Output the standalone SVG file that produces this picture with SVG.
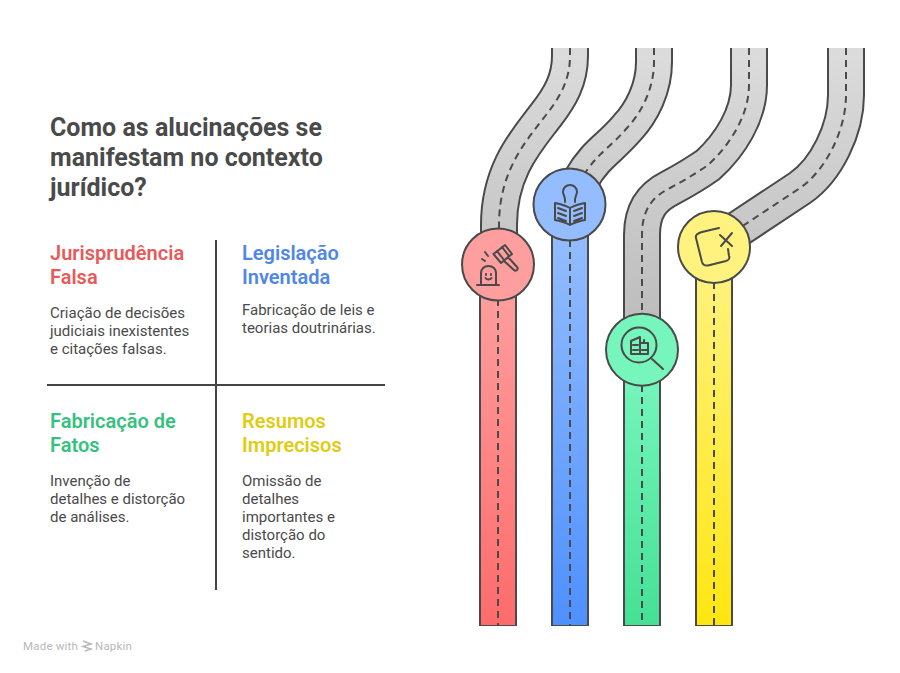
<svg xmlns="http://www.w3.org/2000/svg" width="900" height="673" viewBox="0 0 900 673">
<style>
.edge{fill:none;stroke:#4a4a4a;stroke-width:38}
.road{fill:none;stroke-width:34}
.dash{fill:none;stroke:#4a4a4a;stroke-width:2;stroke-dasharray:7 5}
.ring{stroke:#4a4a4a;stroke-width:2}
.ic{fill:none;stroke:#4a4a4a;stroke-width:2;stroke-linecap:round;stroke-linejoin:round}
.rule{stroke:#444;stroke-width:2}
text{font-family:Roboto,"Liberation Sans",sans-serif}
.title{font-size:25px;font-weight:700;fill:#4a4a4a}
.head{font-size:20px;font-weight:600}
.body{font-size:15px;fill:#4a4a4a}
</style>
<defs>
<linearGradient id="gray" gradientUnits="userSpaceOnUse" x1="0" y1="48" x2="0" y2="330"><stop offset="0" stop-color="#dcdcdc"/><stop offset="1" stop-color="#bcbcbc"/></linearGradient>
<linearGradient id="rs" gradientUnits="userSpaceOnUse" x1="0" y1="290" x2="0" y2="625"><stop offset="0" stop-color="#ff9e9e"/><stop offset="1" stop-color="#ff6b6b"/></linearGradient>
<linearGradient id="bs" gradientUnits="userSpaceOnUse" x1="0" y1="230" x2="0" y2="625"><stop offset="0" stop-color="#94bdff"/><stop offset="1" stop-color="#4e90ff"/></linearGradient>
<linearGradient id="gs" gradientUnits="userSpaceOnUse" x1="0" y1="375" x2="0" y2="625"><stop offset="0" stop-color="#76f5bc"/><stop offset="1" stop-color="#45e095"/></linearGradient>
<linearGradient id="ys" gradientUnits="userSpaceOnUse" x1="0" y1="270" x2="0" y2="625"><stop offset="0" stop-color="#fff27e"/><stop offset="1" stop-color="#ffe610"/></linearGradient>
</defs>

<g id="connectors">
<path class="edge" d="M498 626V265"/><path class="edge" d="M570 626V205"/><path class="edge" d="M642 626V350"/><path class="edge" d="M714 626V246"/>
<path class="road" stroke="url(#rs)" d="M498 625V265"/><path class="road" stroke="url(#bs)" d="M570 625V205"/><path class="road" stroke="url(#gs)" d="M642 625V350"/><path class="road" stroke="url(#ys)" d="M714 625V246"/>
<path class="edge" d="M570 48V56C570 80 560 97 546 115C527 140 499 170 499 225V265"/>
<path class="edge" d="M654 48V62C654 88 642 112 627 128C615 142 604 150 595 160C586 170 574 188 572 205"/>
<path class="edge" d="M749 48V85C749 115 730 145 708 165C698 172 685 180 670 188C652 197 642 210 642 235V350"/>
<path class="edge" d="M846 48V95C846 130 826 170 800 188L714 245"/>
<path class="road" stroke="url(#gray)" d="M570 48V56C570 80 560 97 546 115C527 140 499 170 499 225V265"/>
<path class="road" stroke="url(#gray)" d="M654 48V62C654 88 642 112 627 128C615 142 604 150 595 160C586 170 574 188 572 205"/>
<path class="road" stroke="url(#gray)" d="M749 48V85C749 115 730 145 708 165C698 172 685 180 670 188C652 197 642 210 642 235V350"/>
<path class="road" stroke="url(#gray)" d="M846 48V95C846 130 826 170 800 188L714 245"/>
<path class="dash" d="M570 48V56C570 80 560 97 546 115C527 140 499 170 499 225V265"/>
<path class="dash" d="M654 48V62C654 88 642 112 627 128C615 142 604 150 595 160C586 170 574 188 572 205"/>
<path class="dash" d="M749 48V85C749 115 730 145 708 165C698 172 685 180 670 188C652 197 642 210 642 235V350"/>
<path class="dash" d="M846 48V95C846 130 826 170 800 188L714 245"/>
<path class="dash" d="M498 263V625"/><path class="dash" d="M570 204V625"/><path class="dash" d="M642 349V625"/><path class="dash" d="M714 246V625"/>
</g>

<g id="node-red">
<circle class="ring" cx="498" cy="264.500" r="36" fill="#ff9e9e"/>
<path class="ic" d="M477 285H499M481 285V273C481 269 484 266 488.500 266C493 266 496 269 496 273V285M485.500 278C487 280 490 280 491.500 278M486 274V275M491 274V275M482 259L485 261M485 252L488 256"/>
<path class="ic" d="M493.500 254L505 245L512 254L501 263ZM497 251L504 260M502 247L509 256M504 261L514 270C516 272 519 269 517 267L508 257"/>
</g>
<g id="node-blue">
<circle class="ring" cx="569.500" cy="204.500" r="36" fill="#94bdff"/>
<path class="ic" d="M565 202C566 198 563 195 563 192C563 188 566 185 570 185C574 185 577 188 577 192C577 195 574 198 575 202"/>
<path class="ic" d="M570 208C565 205 560 204 555 203V220C560 221 565 222 570 225C575 222 580 221 585 220V203C580 204 575 205 570 208ZM570 208V225M558 208L566 211M558 213L566 216M558 218L566 221M574 211L582 208M574 216L582 213M574 221L582 218"/>
</g>
<g id="node-green">
<circle class="ring" cx="642" cy="349.700" r="36" fill="#76f5bc"/>
<circle class="ic" cx="639" cy="345" r="17.500"/>
<path class="ic" d="M652 359L663 369"/>
<path class="ic" d="M631 341L640 337V354H631ZM640 343H648V354H640ZM633 345H638M633 350H638M642 350H647M644 340V343"/>
</g>
<g id="node-yellow">
<circle class="ring" cx="714" cy="247" r="36" fill="#fff27e"/>
<path class="ic" d="M719 228L702 232C698 233 695 235 696 238L702 262C703 265 705 266 708 265.500L726 261C729 260 730 258 729 256L728 249"/>
<path class="ic" d="M720 235L732 246M732 233L721 246"/>
</g>

<g id="title">
<text class="title" x="50" y="136">Como as alucinações se</text>
<text class="title" x="50" y="166">manifestam no contexto</text>
<text class="title" x="50" y="196">jurídico?</text>
</g>
<g id="dividers">
<line class="rule" x1="216" y1="240" x2="216" y2="590"/>
<line class="rule" x1="47" y1="385" x2="385" y2="385"/>
</g>
<g id="card-juris">
<text class="head" fill="#e85a5a" x="50" y="260">Jurisprudência</text>
<text class="head" fill="#e85a5a" x="50" y="284">Falsa</text>
<text class="body" x="50" y="318">Criação de decisões</text>
<text class="body" x="50" y="336">judiciais inexistentes</text>
<text class="body" x="50" y="354">e citações falsas.</text>
</g>
<g id="card-leg">
<text class="head" fill="#4f86e8" x="242" y="260">Legislação</text>
<text class="head" fill="#4f86e8" x="242" y="284">Inventada</text>
<text class="body" x="242" y="315">Fabricação de leis e</text>
<text class="body" x="242" y="333">teorias doutrinárias.</text>
</g>
<g id="card-fatos">
<text class="head" fill="#35c27f" x="50" y="428">Fabricação de</text>
<text class="head" fill="#35c27f" x="50" y="452">Fatos</text>
<text class="body" x="50" y="486">Invenção de</text>
<text class="body" x="50" y="504">detalhes e distorção</text>
<text class="body" x="50" y="522">de análises.</text>
</g>
<g id="card-resumos">
<text class="head" fill="#e0cc10" x="242" y="428">Resumos</text>
<text class="head" fill="#e0cc10" x="242" y="452">Imprecisos</text>
<text class="body" x="242" y="486">Omissão de</text>
<text class="body" x="242" y="504">detalhes</text>
<text class="body" x="242" y="522">importantes e</text>
<text class="body" x="242" y="540">distorção do</text>
<text class="body" x="242" y="558">sentido.</text>
</g>
<g id="credit" fill="#b8b8b8">
<text x="23" y="650" font-size="11.500" letter-spacing=".2">Made with</text>
<path d="M83 641L91 644L83 646.500L91 649L85 651" fill="none" stroke="#b8b8b8" stroke-width="1.500"/>
<text x="95" y="650" font-size="11.500" letter-spacing=".2">Napkin</text>
</g>
</svg>
